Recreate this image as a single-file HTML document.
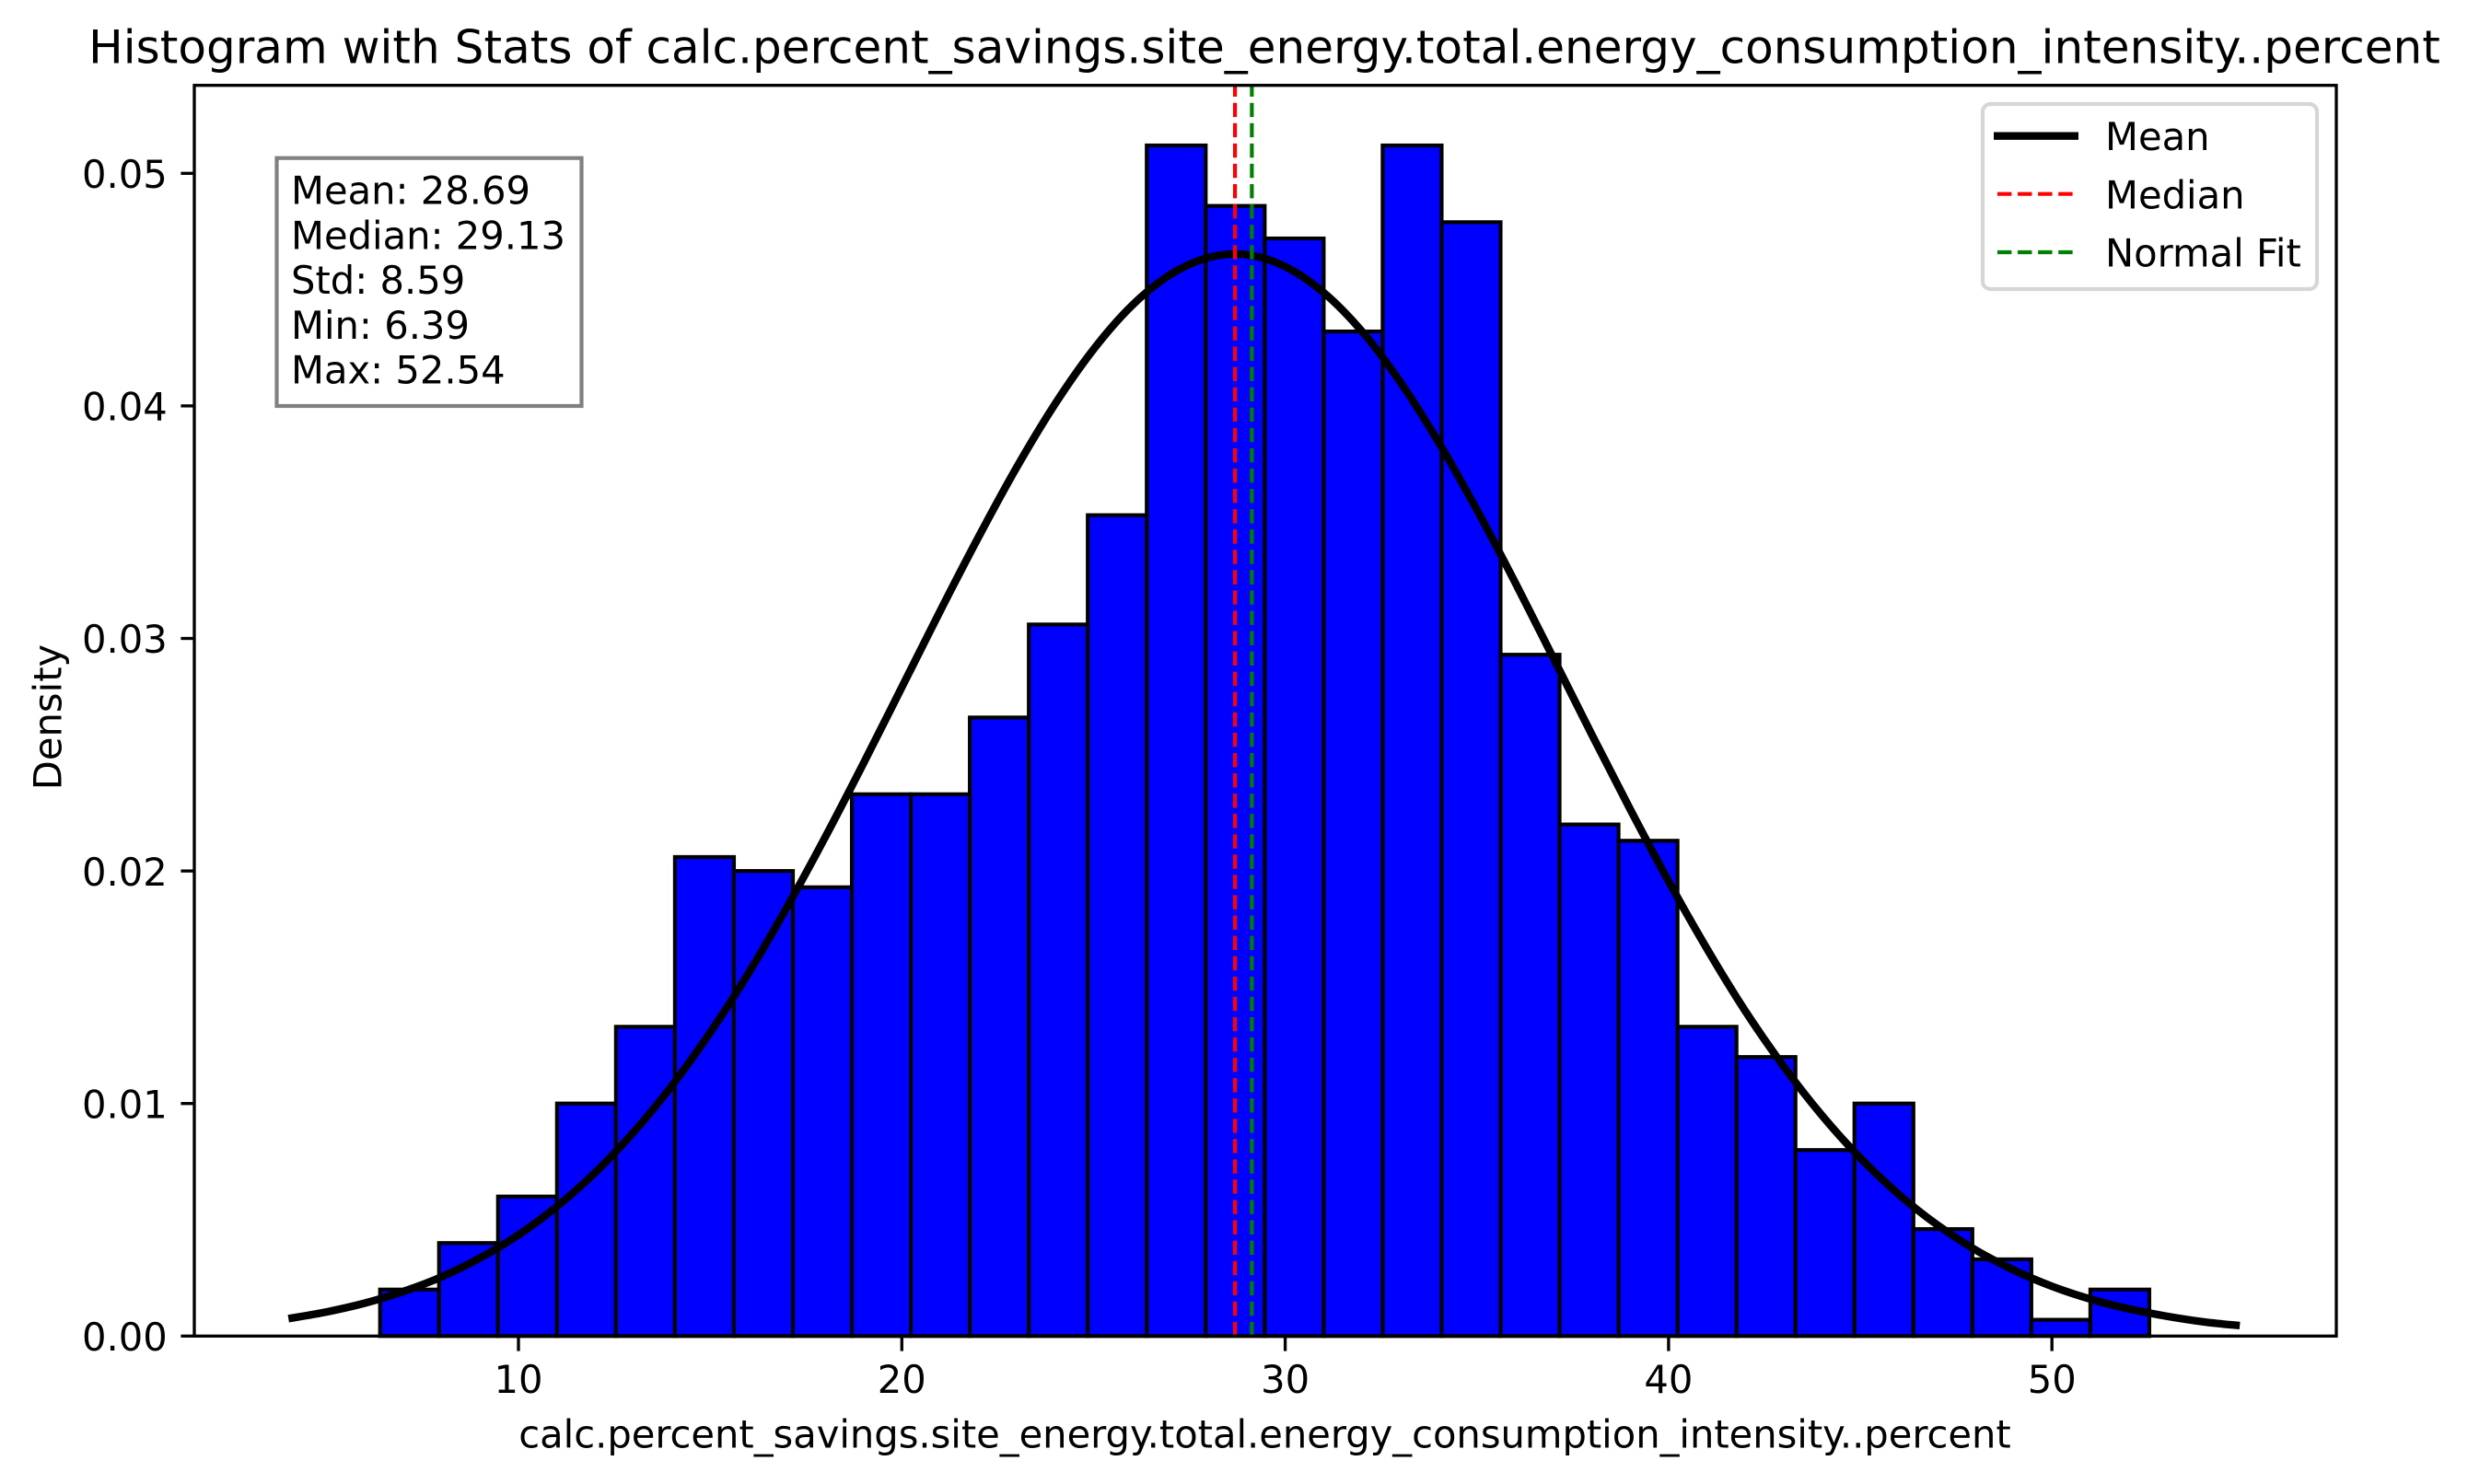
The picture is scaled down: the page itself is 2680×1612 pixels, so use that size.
<!DOCTYPE html>
<html lang="en">
<head>
<meta charset="utf-8">
<title>Histogram with Stats</title>
<style>
html,body{margin:0;padding:0;background:#fff;}
svg{display:block;}
text{font-family:"DejaVu Sans","Liberation Sans",sans-serif;fill:#000;}
.t{font-size:41.67px;}
</style>
</head>
<body>
<svg id="chart" xmlns="http://www.w3.org/2000/svg" width="2680" height="1612" viewBox="0 0 2680 1612">
  <rect x="0" y="0" width="2680" height="1612" fill="#fff"/>
  <rect x="211" y="92.7" width="2326" height="1358.6" fill="#fff"/>
  <g id="bars"></g>
  <path id="curve" fill="none" stroke="#000" stroke-width="8.33" stroke-linejoin="round" stroke-linecap="butt"/>
  <line id="meanLine" stroke="#f00" stroke-width="4.17" stroke-dasharray="15.4 6.67"/>
  <line id="medianLine" stroke="#008000" stroke-width="4.17" stroke-dasharray="15.4 6.67"/>
  <g id="xTicks"></g>
  <g id="yTicks"></g>
  <rect x="211" y="92.7" width="2326" height="1358.6" fill="none" stroke="#000" stroke-width="3.33"/>
  <text x="1373" y="68.3" text-anchor="middle" style="font-size:50px;letter-spacing:0.02px">Histogram with Stats of calc.percent_savings.site_energy.total.energy_consumption_intensity..percent</text>
  <text class="t" x="1373.5" y="1572.5" text-anchor="middle" style="letter-spacing:-0.02px">calc.percent_savings.site_energy.total.energy_consumption_intensity..percent</text>
  <text class="t" transform="translate(66.7 779) rotate(-90)" text-anchor="middle">Density</text>
  <g>
    <rect x="300.5" y="171.7" width="331" height="269.3" fill="#fff" stroke="#808080" stroke-width="4.17"/>
    <text class="t" x="316" y="221.7">Mean: 28.69</text>
    <text class="t" x="316" y="270.5">Median: 29.13</text>
    <text class="t" x="316" y="319.2">Std: 8.59</text>
    <text class="t" x="316" y="368">Min: 6.39</text>
    <text class="t" x="316" y="416.7">Max: 52.54</text>
  </g>
  <g>
    <rect x="2153" y="113" width="363" height="201" rx="8.3" ry="8.3" fill="#fff" fill-opacity="0.8" stroke="#ccc" stroke-opacity="0.8" stroke-width="4.17"/>
    <line x1="2165" x2="2257" y1="147.7" y2="147.7" stroke="#000" stroke-width="8.33"/>
    <text class="t" x="2286" y="163">Mean</text>
    <line x1="2169" x2="2252.3" y1="210.7" y2="210.7" stroke="#f00" stroke-width="4.17" stroke-dasharray="15.4 6.67"/>
    <text class="t" x="2286" y="226.7">Median</text>
    <line x1="2169" x2="2252.3" y1="274" y2="274" stroke="#008000" stroke-width="4.17" stroke-dasharray="15.4 6.67"/>
    <text class="t" x="2286" y="289.3">Normal Fit</text>
  </g>
</svg>
<script>
const binDensities = [0.0020,0.0040,0.0060,0.0100,0.0133,0.0206,0.0200,0.0193,0.0233,0.0233,0.0266,0.0306,0.0353,0.0512,0.0486,0.0472,0.0432,0.0512,0.0479,0.0293,0.0220,0.0213,0.0133,0.0120,0.0080,0.0100,0.0046,0.0033,0.0007,0.0020];
const binRange = [6.39, 52.54];
const curveXs = [4,5,6,7,8,9,10,11,12,13,14,15,16,17,18,19,20,21,22,23,24,25,26,27,28,29,30,31,32,33,34,35,36,37,38,39,40,41,42,43,44,45,46,47,48,49,50,51,52,53,54,54.9];
const curveDensities = [0.00075,0.00104,0.00142,0.00192,0.00255,0.00336,0.00435,0.00557,0.00703,0.00876,0.01076,0.01305,0.01560,0.01843,0.02145,0.02463,0.02790,0.03118,0.03436,0.03737,0.04009,0.04243,0.04431,0.04564,0.04638,0.04650,0.04599,0.04488,0.04321,0.04103,0.03844,0.03553,0.03240,0.02914,0.02586,0.02265,0.01956,0.01666,0.01398,0.01160,0.00949,0.00766,0.00610,0.00479,0.00371,0.00284,0.00214,0.00159,0.00117,0.00085,0.00060,0.00045];
const meanValue = 28.69;
const medianValue = 29.13;
const xTickValues = [10,20,30,40,50];
const yTickValues = [0,0.01,0.02,0.03,0.04,0.05];
const yTickLabels = ["0.00","0.01","0.02","0.03","0.04","0.05"];

const NS = "http://www.w3.org/2000/svg";
const plotTop = 92.7, plotBottom = 1451.3;
function xScale(v){ return 563 + (v - 10) * 41.63; }
function yScale(v){ return 1451.3 - v * 25260; }
function make(tag, attrs){
  const el = document.createElementNS(NS, tag);
  for (const k in attrs) el.setAttribute(k, attrs[k]);
  return el;
}

const barsGroup = document.getElementById("bars");
const binWidth = (binRange[1] - binRange[0]) / binDensities.length;
binDensities.forEach(function(d, i){
  const x0 = xScale(binRange[0] + i * binWidth);
  const x1 = xScale(binRange[0] + (i + 1) * binWidth);
  const bar = make("rect", {x: x0, y: yScale(d), width: x1 - x0, height: yScale(0) - yScale(d), fill: "#0000ff", stroke: "#000", "stroke-width": 4.17, "stroke-linejoin": "miter"});
  
  
  barsGroup.appendChild(bar);
});

const pts = curveXs.map(function(x, i){ return [xScale(x), yScale(curveDensities[i])]; });
let d = "M" + pts[0][0] + " " + pts[0][1];
for (let i = 0; i < pts.length - 1; i++) {
  const p0 = pts[Math.max(i - 1, 0)], p1 = pts[i], p2 = pts[i + 1], p3 = pts[Math.min(i + 2, pts.length - 1)];
  d += " C" + (p1[0] + (p2[0] - p0[0]) / 6) + " " + (p1[1] + (p2[1] - p0[1]) / 6) + " " +
       (p2[0] - (p3[0] - p1[0]) / 6) + " " + (p2[1] - (p3[1] - p1[1]) / 6) + " " + p2[0] + " " + p2[1];
}
document.getElementById("curve").setAttribute("d", d);

function placeVLine(id, v){
  const l = document.getElementById(id);
  l.setAttribute("x1", xScale(v));
  l.setAttribute("x2", xScale(v));
  l.setAttribute("y1", plotBottom);
  l.setAttribute("y2", plotTop);
}
placeVLine("meanLine", meanValue);
placeVLine("medianLine", medianValue);

const xTicksGroup = document.getElementById("xTicks");
xTickValues.forEach(function(v){
  const mark = make("line", {x1: xScale(v), x2: xScale(v), y1: plotBottom, y2: plotBottom + 16.3, stroke: "#000", "stroke-width": 3.33});
  
  
  xTicksGroup.appendChild(mark);
  const label = make("text", {x: xScale(v), y: 1513, "text-anchor": "middle", class: "t"});
  
  
  label.textContent = String(v);
  xTicksGroup.appendChild(label);
});

const yTicksGroup = document.getElementById("yTicks");
yTickValues.forEach(function(v, i){
  const mark = make("line", {x1: 196.4, x2: 211, y1: yScale(v), y2: yScale(v), stroke: "#000", "stroke-width": 3.33});
  
  
  yTicksGroup.appendChild(mark);
  const label = make("text", {x: 181.8, y: yScale(v) + 15.7, "text-anchor": "end", class: "t"});
  
  
  label.textContent = yTickLabels[i];
  yTicksGroup.appendChild(label);
});
</script>
</body>
</html>
